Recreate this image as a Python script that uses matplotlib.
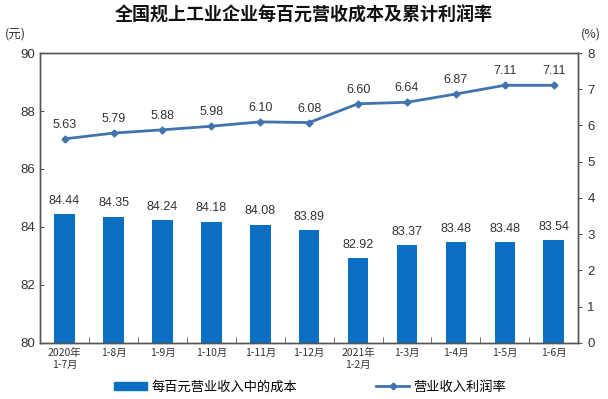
import numpy as np
import matplotlib
matplotlib.use("Agg")
import matplotlib.pyplot as plt
from matplotlib.lines import Line2D
from matplotlib.patches import Patch

plt.rcParams['font.family'] = ['Liberation Sans', 'Noto Sans CJK SC', 'DejaVu Sans']

# data
categories = ["2020年\n1-7月", "1-8月", "1-9月", "1-10月", "1-11月", "1-12月",
              "2021年\n1-2月", "1-3月", "1-4月", "1-5月", "1-6月"]
cost_per_100 = [84.44, 84.35, 84.24, 84.18, 84.08, 83.89, 82.92, 83.37, 83.48, 83.48, 83.54]
profit_rate = [5.63, 5.79, 5.88, 5.98, 6.10, 6.08, 6.60, 6.64, 6.87, 7.11, 7.11]

BAR_COLOR = "#0a6fc2"
LINE_COLOR = "#4173ad"
TEXT = "#333333"

fig = plt.figure(figsize=(6.08, 3.99), dpi=100)
ax = fig.add_axes([0.066, 0.141, 0.885, 0.726])
ax2 = ax.twinx()

x = np.arange(len(categories))
ax.bar(x, cost_per_100, width=0.42, color=BAR_COLOR, zorder=2)
for xi, v in zip(x, cost_per_100):
    ax.text(xi, v + 0.25, f"{v:.2f}", ha="center", va="bottom", fontsize=9, color=TEXT)

ax2.plot(x, profit_rate, color=LINE_COLOR, lw=2, marker="D", ms=3.5, zorder=3)
for xi, v in zip(x, profit_rate):
    ax2.text(xi, v + 0.22, f"{v:.2f}", ha="center", va="bottom", fontsize=9, color=TEXT)

ax.set_xlim(-0.5, len(categories) - 0.5)
ax.set_ylim(80, 90)
ax.set_yticks(np.arange(80, 91, 2))
ax2.set_ylim(0, 8)
ax2.set_yticks(np.arange(0, 9, 1))

# category ticks between groups, labels at centres
ax.set_xticks(x)
ax.set_xticklabels(categories, fontsize=7.5, color=TEXT, family=['Noto Sans CJK SC'])
ax.tick_params(axis="x", length=0, pad=4)
ax.set_xticks(np.arange(-0.5, len(categories)), minor=True)
ax.tick_params(axis="x", which="minor", direction="in", length=4, color="#555555")

ax.tick_params(axis="y", direction="in", length=3, labelsize=9.5, labelcolor=TEXT, color="#555555")
ax2.tick_params(axis="y", direction="out", length=3, labelsize=9.5, labelcolor=TEXT, color="#555555")

for spine in ax.spines.values():
    spine.set_color("#555555")
    spine.set_linewidth(1)
for spine in ax2.spines.values():
    spine.set_color("#555555")
    spine.set_linewidth(1)

fig.text(0.008, 0.905, "(元)", fontsize=9, color=TEXT, family=['Noto Sans CJK SC'])
fig.text(0.955, 0.905, "(%)", fontsize=9, color=TEXT, family=['Noto Sans CJK SC'])

fig.text(0.5, 0.962, "全国规上工业企业每百元营收成本及累计利润率", ha="center", va="center",
         fontsize=13, fontweight="bold", color="#111111", family=['Noto Sans CJK SC'])

handles = [Patch(color=BAR_COLOR), Line2D([], [], color=LINE_COLOR, lw=2, marker="D", ms=3.5)]
labels = ["每百元营业收入中的成本", "营业收入利润率"]
fig.legend(handles, labels, loc="center", bbox_to_anchor=(0.51, 0.03), ncol=2, frameon=False,
           prop={"family": "Noto Sans CJK SC", "size": 9.5}, columnspacing=6,
           handlelength=2.5, handleheight=0.6, handletextpad=0.3)

fig.savefig("out.png", dpi=100)
